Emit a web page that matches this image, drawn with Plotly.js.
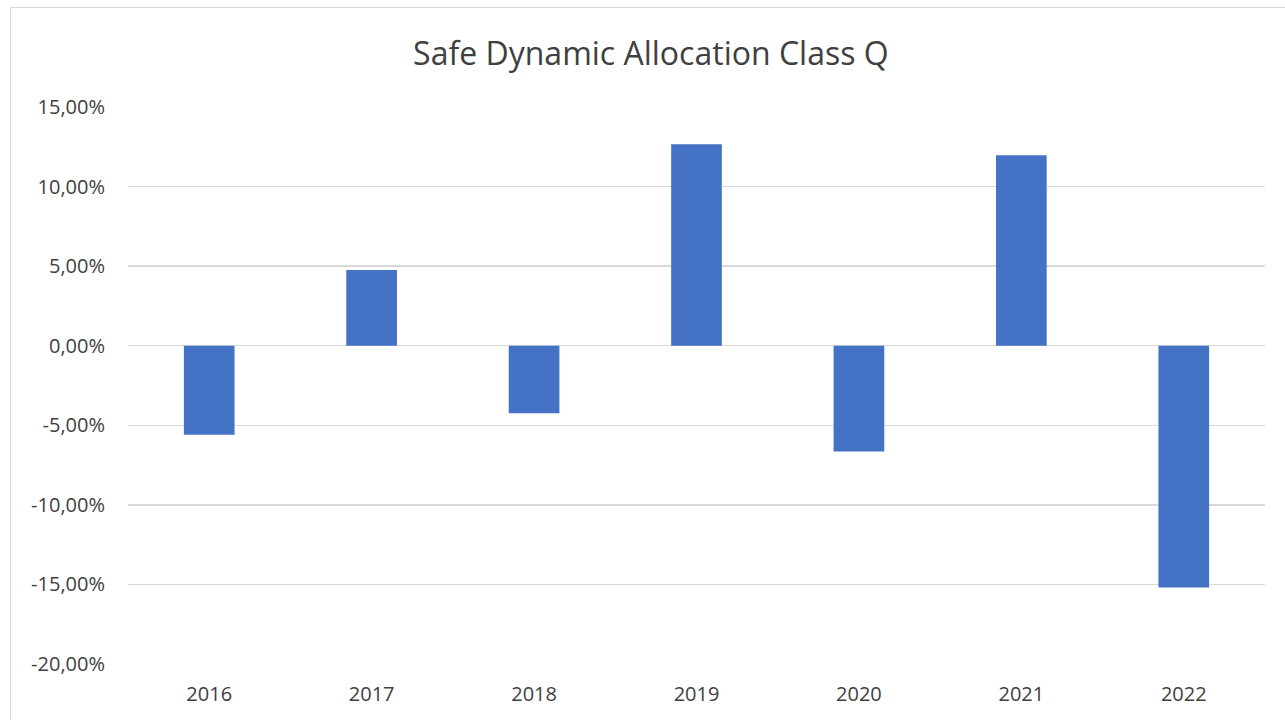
<!DOCTYPE html>
<html>
<head>
<meta charset="utf-8">
<script src="https://cdn.plot.ly/plotly-3.0.1.min.js"></script>
<style>
  html, body { margin: 0; padding: 0; background: #ffffff; overflow: hidden; }
  #chart { position: absolute; left: 0; top: 0; width: 1285px; height: 720px; }
  #frame { position: absolute; left: 10px; top: 7px; width: 1300px; height: 740px;
           border: 1px solid #d9d9d9; pointer-events: none; box-sizing: border-box; }
</style>
</head>
<body>
<div id="chart"></div>
<div id="frame"></div>
<script>
const chartTitle = "Safe Dynamic Allocation Class Q";
const years = ["2016", "2017", "2018", "2019", "2020", "2021", "2022"];
const returns = [-0.0559, 0.0475, -0.0424, 0.1266, -0.0665, 0.1197, -0.1520];
const yTickValues = [0.15, 0.10, 0.05, 0.00, -0.05, -0.10, -0.15, -0.20];
const yTickLabels = ["15,00%", "10,00%", "5,00%", "0,00%", "-5,00%", "-10,00%", "-15,00%", "-20,00%"];

const textColor = "#404040";
const fontFam = "'Open Sans', 'Noto Sans', sans-serif";

const trace = {
  type: "bar",
  x: years,
  y: returns,
  marker: { color: "#4472C4" },
  hoverinfo: "x+y"
};

const layout = {
  width: 1285,
  height: 720,
  paper_bgcolor: "rgba(0,0,0,0)",
  plot_bgcolor: "rgba(0,0,0,0)",
  margin: { l: 128, r: 20, t: 107, b: 56 },
  showlegend: false,
  bargap: 0.688,
  title: {
    text: chartTitle,
    x: 0.5065, xref: "container", xanchor: "center",
    y: 52, yref: "container", yanchor: "middle",
    font: { family: fontFam, size: 32, color: textColor }
  },
  xaxis: {
    type: "category",
    showgrid: false,
    showline: false,
    zeroline: false,
    ticks: "",
    ticklabelstandoff: 16,
    tickfont: { family: fontFam, size: 20, color: textColor }
  },
  yaxis: {
    range: [-0.20, 0.15],
    tickvals: yTickValues,
    ticktext: yTickLabels,
    showgrid: true,
    gridcolor: "#d9d9d9",
    gridwidth: 1.5,
    zeroline: true,
    zerolinecolor: "#d9d9d9",
    zerolinewidth: 1.5,
    showline: false,
    ticks: "",
    ticklabelstandoff: 22,
    tickfont: { family: fontFam, size: 20, color: textColor }
  }
};

Plotly.newPlot("chart", [trace], layout, { displayModeBar: false, staticPlot: true });
</script>
</body>
</html>
